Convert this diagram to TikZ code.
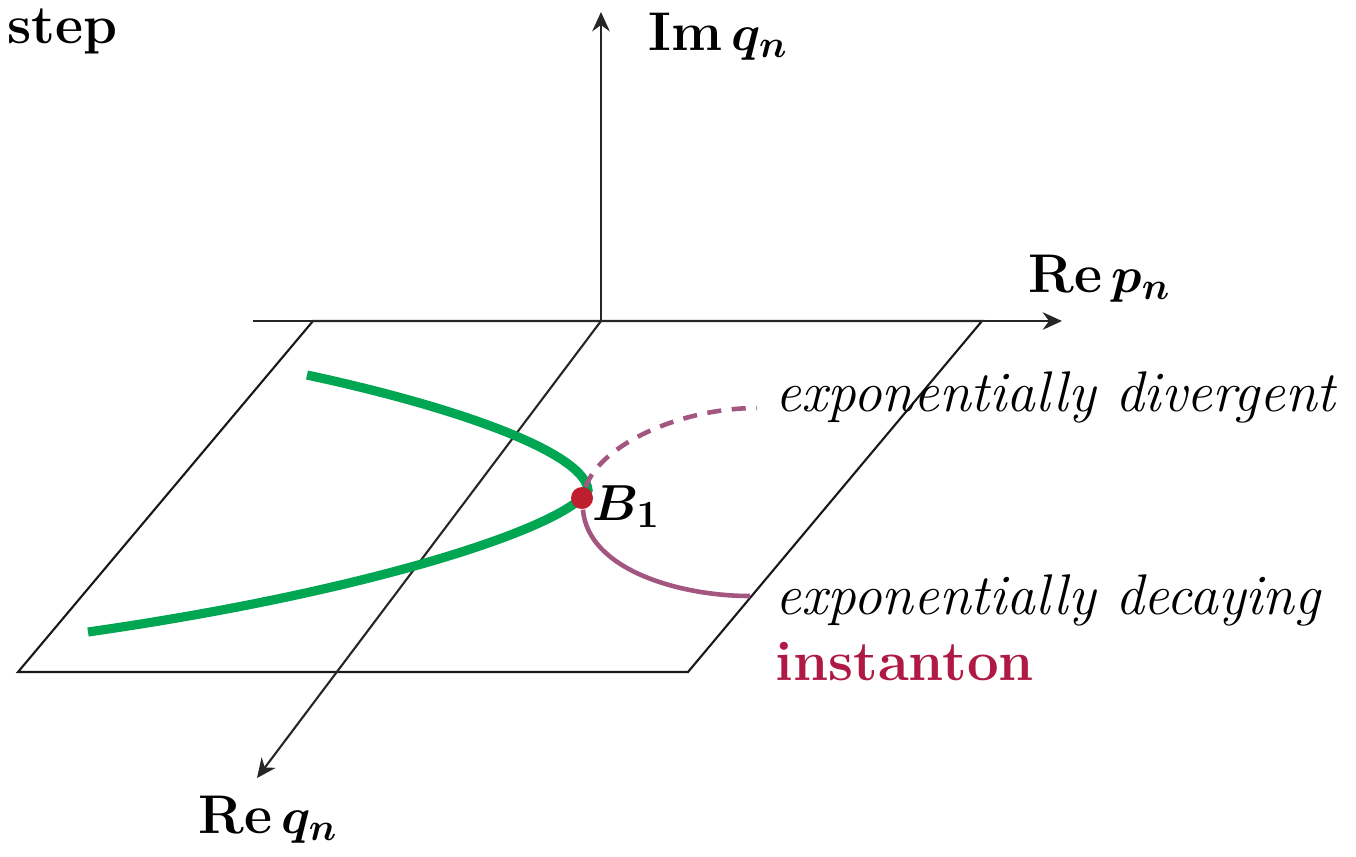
\documentclass[tikz,border=0pt]{standalone}
\usepackage{amsmath}
\usepackage{bm}
\usetikzlibrary{arrows.meta,positioning,calc}
\definecolor{pathgreen}{RGB}{0,166,81}
\definecolor{instpurple}{RGB}{163,86,128}
\definecolor{dotred}{RGB}{190,30,45}
\definecolor{instred}{RGB}{175,25,70}

\begin{document}
\begin{tikzpicture}[x=0.01cm,y=-0.01cm,
  every node/.style={font=\fontsize{15.5}{18}\selectfont,inner sep=0pt},
  axis/.style={-{Stealth[length=5.5pt,width=5pt,inset=1.8pt]},line width=0.6pt,draw=black!85},
  plane/.style={line width=0.6pt,draw=black!90},
  branch/.style={line width=2.6pt,pathgreen},
  inst/.style={line width=1.3pt,instpurple},
  bdot/.style={circle,fill=dotred,minimum size=0.22cm,inner sep=0pt},
  lbl/.style={anchor=base west},
  remark/.style={anchor=base west,font=\fontsize{16.3}{19}\selectfont\itshape}]
\useasboundingbox (0,0) rectangle (1356,856);
% plane and axes
\draw[plane] (313,321) -- (982,321) -- (688,672) -- (18,672) -- cycle;
\coordinate (o) at (601,321);
\coordinate (rpstart) at (253,321);
\coordinate (rptip) at (1062,321);
\coordinate (imtip) at (601,12);
\coordinate (rqtip) at (257,778);
\draw[axis] (rpstart) -- (rptip);
\draw[axis] (o) -- (imtip);
\draw[axis] (o) -- (rqtip);
% classical branches meeting at B1
\coordinate (upend) at (307,375);
\coordinate (vtx) at (588,490);
\coordinate (lowend) at (88,632);
\draw[branch] (upend) .. controls (470,410) and (585,455) .. (vtx)
  .. controls (570,525) and (380,590) .. (lowend);
\node[bdot] (b1) at (582,498) {};
% instanton continuations
\coordinate (divend) at (757,408);
\coordinate (decend) at (750,596);
\draw[inst,dash pattern=on 4pt off 3pt] (b1) .. controls (600,445) and (680,408) .. (divend);
\draw[inst] (b1) .. controls (588,570) and (680,596) .. (decend);
% labels
\node[lbl] (b1lbl) at (592,520) {$\bm{B_1}$};
\node[remark] (divlbl) at (775,411) {exponentially divergent};
\node[remark] (declbl) at (775,614) {exponentially decaying};
\node[lbl,text=instred,font=\fontsize{16}{19}\selectfont\bfseries] (instlbl) at (775,680) {instanton};
\node[lbl] (imlbl) at (648,50) {\textbf{Im}\,$\bm{q_n}$};
\node[lbl] (rplbl) at (1028,292) {\textbf{Re}\,$\bm{p_n}$};
\node[lbl] (rqlbl) at (198,833) {\textbf{Re}\,$\bm{q_n}$};
\node[anchor=base east] (steplbl) at (118,43) {\bfseries step};
\end{tikzpicture}
\end{document}
